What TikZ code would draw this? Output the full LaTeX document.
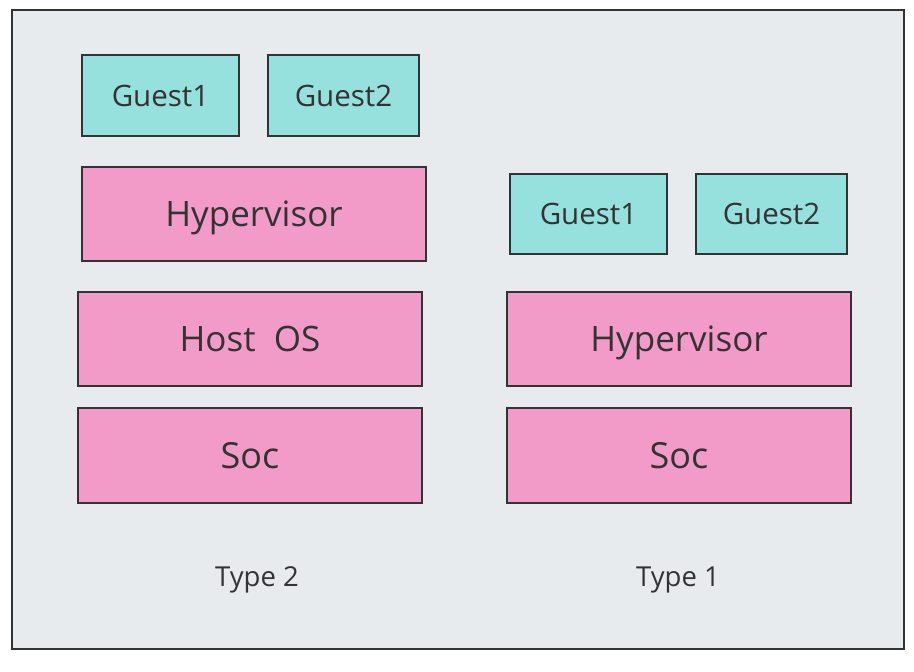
\documentclass[tikz,border=0pt]{standalone}
\usepackage{fontspec}
\setmainfont{Open Sans}
\definecolor{bgc}{HTML}{E7EBEE}
\definecolor{framec}{HTML}{333333}
\definecolor{cyanc}{HTML}{96E0DE}
\definecolor{pinkc}{HTML}{F29BC9}
\definecolor{txtc}{HTML}{333333}
\begin{document}
\begin{tikzpicture}[x=1pt,y=-1pt,
  guestbox/.style={draw=framec, line width=1.8pt, fill=cyanc, text=txtc, minimum height=81pt, inner sep=0pt, text height=21.1pt, text depth=0pt, font=\fontsize{29.5}{34}\selectfont},
  layerbox/.style={draw=framec, line width=1.8pt, fill=pinkc, text=txtc, minimum width=344pt, minimum height=94pt, inner sep=0pt, text height=25pt, text depth=0pt, font=\fontsize{35}{40}\selectfont},
  socbox/.style={layerbox, minimum height=95pt, text height=25.7pt, font=\fontsize{36}{41}\selectfont},
  typelabel/.style={text=txtc, inner sep=0pt, text height=19.6pt, text depth=0pt, font=\fontsize{27.5}{32}\selectfont}]
\useasboundingbox (0,0) rectangle (914,672);
\fill[white] (0,0) rectangle (914,672);
\node[draw=framec, line width=1.8pt, fill=bgc, minimum width=892pt, minimum height=639pt, inner sep=0pt] (frame) at (458,329.5) {};
% Type 2
\node[guestbox, minimum width=157pt] (lg1) at (160.5,95.5) {Guest1};
\node[guestbox, minimum width=151pt] (lg2) at (343.5,95.5) {Guest2};
\node[layerbox] (lhyp) at (254,214) {Hypervisor};
\node[layerbox] (lhost) at (250,339) {Host\ \ OS};
\node[socbox] (lsoc) at (250,455.5) {Soc};
\node[typelabel] (t2) at (257,577) {Type 2};
% Type 1
\node[guestbox, minimum width=157pt, minimum height=80pt] (rg1) at (588.5,214) {Guest1};
\node[guestbox, minimum width=151pt, minimum height=80pt] (rg2) at (771.5,214) {Guest2};
\node[layerbox] (rhyp) at (679,339) {Hypervisor};
\node[socbox] (rsoc) at (679,455.5) {Soc};
\node[typelabel] (t1) at (678,577) {Type 1};
\end{tikzpicture}
\end{document}
